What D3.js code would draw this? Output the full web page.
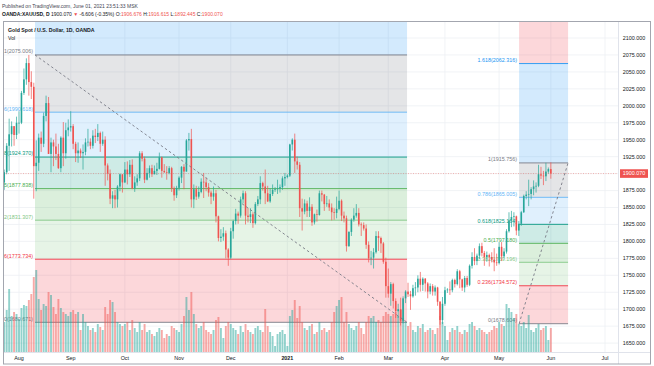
<!DOCTYPE html>
<html><head><meta charset="utf-8">
<script src="https://cdn.jsdelivr.net/npm/d3@7"></script>
<style>body{margin:0;background:#fff}svg{display:block;font-family:"Liberation Sans",Arial,sans-serif}</style>
</head><body><svg id="c" width="654" height="366"></svg>
<script>
// ---- OHLC data by month: [open, high, low, close] ----
const jul2020 = [[1887,1906,1876,1902],[1902,1945,1899,1941],[1941,1981,1904,1958],[1958,1977,1940,1970],[1970,1970,1941,1957],[1957,1984,1951,1975]];
const aug2020 = [[1975,1992,1959,1975],[1975,2022,1973,2019],[2019,2055,2016,2039],[2039,2070,2031,2063],[2063,2075,2015,2035],[2035,2051,2010,2028],[2028,2034,1863,1911],[1911,1949,1874,1916],[1916,1959,1904,1953],[1953,1962,1932,1944],[1944,1990,1939,1985],[1985,2015,1977,2004],[2004,2013,1929,1929],[1929,1953,1902,1946],[1946,1950,1911,1940],[1940,1959,1920,1929],[1929,1944,1907,1908],[1908,1955,1902,1953],[1953,1976,1911,1930],[1930,1975,1922,1964],[1964,1980,1955,1968]];
const sep2020 = [[1968,1992,1962,1970],[1970,1973,1936,1944],[1944,1947,1917,1930],[1930,1946,1916,1934],[1934,1937,1923,1930],[1930,1943,1906,1932],[1932,1952,1927,1946],[1946,1966,1940,1947],[1947,1952,1936,1941],[1941,1964,1937,1956],[1956,1966,1945,1954],[1954,1973,1948,1960],[1960,1962,1932,1944],[1944,1962,1941,1950],[1950,1955,1882,1912],[1912,1915,1890,1900],[1900,1906,1855,1863],[1863,1874,1849,1868],[1868,1876,1849,1862],[1862,1883,1850,1881],[1881,1900,1874,1899],[1899,1899,1872,1887]];
const oct2020 = [[1887,1917,1886,1906],[1906,1918,1884,1899],[1899,1920,1895,1913],[1913,1921,1877,1878],[1878,1896,1873,1887],[1887,1899,1882,1893],[1893,1933,1889,1930],[1930,1933,1918,1922],[1922,1925,1886,1891],[1891,1908,1890,1901],[1901,1912,1894,1908],[1908,1913,1895,1899],[1899,1912,1899,1904],[1904,1916,1898,1907],[1907,1931,1906,1924],[1924,1925,1894,1904],[1904,1914,1901,1902],[1902,1911,1891,1901],[1901,1911,1899,1908],[1908,1910,1873,1878],[1878,1881,1860,1868],[1868,1882,1864,1879]];
const nov2020 = [[1879,1896,1875,1894],[1894,1911,1886,1910],[1910,1914,1877,1903],[1903,1951,1903,1949],[1949,1960,1934,1951],[1951,1966,1850,1862],[1862,1884,1849,1877],[1877,1882,1861,1866],[1866,1881,1863,1873],[1873,1893,1871,1888],[1888,1901,1864,1887],[1887,1894,1874,1880],[1880,1886,1866,1872],[1872,1875,1855,1866],[1866,1881,1860,1871],[1871,1876,1828,1837],[1837,1838,1800,1805],[1805,1818,1799,1807],[1807,1821,1801,1812],[1812,1816,1775,1788],[1788,1790,1764,1776]];
const dec2020 = [[1776,1820,1774,1815],[1815,1832,1804,1830],[1830,1848,1825,1841],[1841,1844,1826,1838],[1838,1866,1835,1862],[1862,1875,1856,1871],[1871,1874,1825,1838],[1838,1849,1828,1836],[1836,1849,1827,1840],[1840,1843,1820,1827],[1827,1858,1825,1855],[1855,1867,1852,1862],[1862,1896,1855,1886],[1886,1888,1875,1881],[1881,1906,1855,1871],[1871,1882,1858,1859],[1859,1878,1857,1870],[1870,1884,1867,1876],[1876,1880,1873,1877],[1877,1891,1870,1878],[1878,1884,1872,1880],[1880,1896,1876,1893],[1893,1901,1882,1895]];
const jan2021 = [[1895,1899,1893,1897],[1897,1944,1895,1943],[1943,1952,1934,1950],[1950,1959,1901,1918],[1918,1925,1906,1913],[1913,1917,1836,1849],[1849,1863,1816,1844],[1844,1862,1840,1856],[1856,1860,1836,1845],[1845,1865,1836,1851],[1851,1855,1823,1828],[1828,1841,1825,1840],[1840,1847,1829,1839],[1839,1875,1838,1871],[1871,1875,1859,1869],[1869,1870,1845,1855],[1855,1867,1851,1856],[1856,1862,1845,1850],[1850,1856,1831,1843],[1843,1849,1832,1842],[1842,1866,1834,1848]];
const feb2021 = [[1848,1875,1846,1860],[1860,1862,1830,1838],[1838,1844,1828,1834],[1834,1838,1785,1793],[1793,1815,1792,1814],[1814,1834,1808,1832],[1832,1849,1829,1838],[1838,1855,1835,1842],[1842,1849,1822,1825],[1825,1828,1808,1824],[1824,1828,1816,1819],[1819,1825,1789,1795],[1795,1800,1769,1775],[1775,1786,1765,1776],[1776,1790,1760,1784],[1784,1815,1782,1808],[1808,1815,1786,1805],[1805,1807,1783,1797],[1797,1799,1767,1770],[1770,1776,1717,1734]];
const mar2021 = [[1734,1760,1717,1723],[1723,1740,1705,1737],[1737,1739,1701,1712],[1712,1716,1687,1697],[1697,1708,1687,1700],[1700,1717,1676,1683],[1683,1719,1679,1716],[1716,1728,1709,1726],[1726,1739,1718,1722],[1722,1727,1699,1719],[1719,1736,1717,1731],[1731,1740,1720,1732],[1732,1750,1725,1745],[1745,1755,1726,1736],[1736,1747,1727,1745],[1745,1746,1726,1738],[1738,1740,1716,1726],[1726,1738,1722,1734],[1734,1737,1720,1726],[1726,1735,1720,1732],[1732,1733,1705,1711],[1711,1712,1677,1684],[1684,1718,1678,1708]];
const apr2021 = [[1708,1733,1705,1728],[1728,1731,1724,1729],[1729,1741,1721,1728],[1728,1745,1725,1743],[1743,1745,1732,1737],[1737,1759,1735,1756],[1756,1758,1731,1744],[1744,1745,1727,1732],[1732,1749,1725,1746],[1746,1749,1733,1736],[1736,1766,1734,1764],[1764,1784,1760,1777],[1777,1790,1765,1771],[1771,1782,1765,1779],[1779,1797,1774,1793],[1793,1798,1778,1783],[1783,1786,1764,1777],[1777,1785,1770,1780],[1780,1782,1763,1777],[1777,1784,1769,1773],[1773,1790,1756,1769],[1769,1782,1764,1768]];
const may2021 = [[1768,1799,1766,1792],[1792,1799,1771,1778],[1778,1790,1775,1785],[1785,1818,1782,1815],[1815,1843,1813,1831],[1831,1845,1821,1836],[1836,1843,1822,1837],[1837,1838,1809,1816],[1816,1830,1808,1826],[1826,1845,1823,1843],[1843,1869,1842,1867],[1867,1874,1862,1869],[1869,1891,1852,1870],[1870,1880,1862,1877],[1877,1890,1868,1881],[1881,1887,1872,1882],[1882,1913,1880,1899],[1899,1910,1892,1897],[1897,1904,1883,1896],[1896,1916,1889,1903],[1903,1909,1900,1906.676]];
const jun2021 = [[1906.676,1916.615,1892.445,1900.070]];

// ---- volume by month (thousands) ----
const volJul2020 = [30,42,63,36,40,38];
const volAug2020 = [33,44,47,46,52,58,75,82,53,42,48,46,60,57,45,38,53,44,40,38,36];
const volSep2020 = [40,42,38,40,22,38,30,26,22,24,20,28,25,22,45,38,52,50,40,30,28,26];
const volOct2020 = [28,30,22,32,24,20,30,22,28,20,22,18,16,20,24,22,14,18,16,26,24,22];
const volNov2020 = [20,28,36,55,42,60,38,28,24,26,30,22,20,18,22,32,35,24,14,26,30];
const volDec2020 = [28,24,22,18,26,20,28,22,20,18,24,26,22,20,43,26,20,16,6,18,20,22,18];
const volJan2021 = [6,36,42,52,34,46,30,24,22,26,28,18,20,30,22,24,20,22,30,40,46];
const volFeb2021 = [52,55,30,40,28,24,22,26,30,24,18,30,36,34,36,30,32,30,36,40];
const volMar2021 = [38,36,38,40,36,42,34,30,26,30,22,20,26,24,28,20,22,24,22,18,24,36,30];
const volApr2021 = [26,12,20,24,22,26,20,18,22,20,28,30,26,22,24,22,20,18,20,22,26,24];
const volMay2021 = [30,28,26,48,44,40,34,38,28,26,30,24,37,22,20,24,28,22,24,26,12];
const volJun2021 = [24];

// ---- axes ----
const monthLabels = ["Aug","Sep","Oct","Nov","Dec","2021","Feb","Mar","Apr","May","Jun","Jul"];
const monthBars   = [6,27,49,71,92,115,136,156,179,201,222,244];
const priceTicks  = [1650,1675,1700,1725,1750,1775,1800,1825,1850,1875,1900,1925,1950,1975,2000,2025,2050,2075,2100];

// ---- fibonacci drawings ----
const fibRatios = [0,0.236,0.382,0.5,0.618,0.786,1,1.618,2.618];
const fibColors = ["#787b86","#f23645","#81c784","#4caf50","#089981","#64b5f6","#787b86","#2196f3","#f23645"];
const fibLeftAnchors  = [1680.671, 2075.006]; // level 0, level 1
const fibLeftBars     = [12.5, 163.6];
const fibRightAnchors = [1678.604, 1915.756];
const fibRightBars    = [209.1, 229];

const candles = [].concat(jul2020,aug2020,sep2020,oct2020,nov2020,dec2020,jan2021,feb2021,mar2021,apr2021,may2021,jun2021);
const volume  = [].concat(volJul2020,volAug2020,volSep2020,volOct2020,volNov2020,volDec2020,volJan2021,volFeb2021,volMar2021,volApr2021,volMay2021,volJun2021);

const svg = d3.select("#c");
const pane = {l:3, r:618, t:21, b:352};
const x = d3.scaleLinear().domain([6,244]).range([19,605]);
const y = d3.scaleLinear().domain([1650,2100]).range([343.1,38]);
const yv = d3.scaleLinear().domain([0,d3.max(volume)]).range([pane.b, pane.b-82]);
const UP = "#26a69a", DN = "#ef5350";
const FS = 5.4;

svg.append("rect").attr("width",654).attr("height",366).attr("fill","#fff");
svg.append("defs").append("clipPath").attr("id","clip").append("rect")
  .attr("x",pane.l).attr("y",pane.t).attr("width",pane.r-pane.l).attr("height",pane.b-pane.t);

const g = svg.append("g").attr("clip-path","url(#clip)");

// grid
g.selectAll(".hg").data(priceTicks).join("line")
  .attr("x1",pane.l).attr("x2",pane.r).attr("y1",d=>y(d)).attr("y2",d=>y(d))
  .attr("stroke","#eef0f4").attr("stroke-width",0.8);
g.selectAll(".vg").data(monthBars).join("line")
  .attr("x1",d=>x(d)).attr("x2",d=>x(d)).attr("y1",pane.t).attr("y2",pane.b)
  .attr("stroke","#eef0f4").attr("stroke-width",0.8);

function fibLevels(anchors){
  return fibRatios.map((r,i)=>({r, c:fibColors[i], p: anchors[0] + r*(anchors[1]-anchors[0])}));
}
function drawFib(anchors, bars){
  const lv = fibLevels(anchors), x0 = x(bars[0]), x1 = x(bars[1]);
  for (let i=1;i<lv.length;i++){
    const ya = y(lv[i].p), yb = y(lv[i-1].p);
    g.append("rect").attr("x",x0).attr("width",x1-x0)
      .attr("y",Math.min(ya,yb)).attr("height",Math.abs(yb-ya))
      .attr("fill",lv[i].c).attr("fill-opacity",0.2);
  }
  lv.forEach(l=>{
    g.append("line").attr("x1",x0).attr("x2",x1).attr("y1",y(l.p)).attr("y2",y(l.p))
      .attr("stroke",l.c).attr("stroke-width",0.9);
    g.append("text").attr("x",x0-2).attr("y",y(l.p)-1.6).attr("text-anchor","end")
      .attr("font-size",FS).attr("fill",l.c).text(`${l.r}(${l.p.toFixed(3)})`);
  });
}
drawFib(fibLeftAnchors, fibLeftBars);
drawFib(fibRightAnchors, fibRightBars);

// volume
g.selectAll(".vol").data(volume).join("rect")
  .attr("x",(d,i)=>x(i)-0.95).attr("width",1.9)
  .attr("y",d=>yv(d)).attr("height",d=>pane.b-yv(d))
  .attr("fill",(d,i)=>candles[i][3]>=candles[i][0]?UP:DN).attr("fill-opacity",0.5);

// candles
const cg = g.selectAll(".cd").data(candles).join("g");
cg.append("line").attr("x1",(d,i)=>x(i)).attr("x2",(d,i)=>x(i))
  .attr("y1",d=>y(d[1])).attr("y2",d=>y(d[2]))
  .attr("stroke",d=>d[3]>=d[0]?UP:DN).attr("stroke-width",0.7);
cg.append("rect").attr("x",(d,i)=>x(i)-0.8).attr("width",1.6)
  .attr("y",d=>y(Math.max(d[0],d[3])))
  .attr("height",d=>Math.max(0.7,Math.abs(y(d[0])-y(d[3]))))
  .attr("fill",d=>d[3]>=d[0]?UP:DN);

// dashed trend lines of the fib drawings
[[fibLeftAnchors,fibLeftBars,1,0],[fibRightAnchors,fibRightBars,0,1]].forEach(([a,b,s,e])=>{
  g.append("line").attr("x1",x(b[0])).attr("y1",y(a[s])).attr("x2",x(b[1])).attr("y2",y(a[e]))
    .attr("stroke","#787b86").attr("stroke-width",0.9).attr("stroke-dasharray","2.5,2.5");
});

// last price line
const last = candles[candles.length-1];
g.append("line").attr("x1",pane.l).attr("x2",pane.r).attr("y1",y(last[3])).attr("y2",y(last[3]))
  .attr("stroke",DN).attr("stroke-width",0.7).attr("stroke-dasharray","1,1.5").attr("stroke-opacity",0.6);

// legend
g.append("text").attr("x",8).attr("y",31.5).attr("font-size",5.2).attr("font-weight","bold")
  .attr("fill","#131722").text("Gold Spot / U.S. Dollar, 1D, OANDA");
g.append("text").attr("x",8).attr("y",39.5).attr("font-size",5.2).attr("fill","#131722").text("Vol");

// separators & frame
svg.append("line").attr("x1",pane.r+0.5).attr("x2",pane.r+0.5).attr("y1",pane.t).attr("y2",364)
  .attr("stroke","#e0e3eb").attr("stroke-width",1);
svg.append("line").attr("x1",pane.l).attr("x2",651).attr("y1",pane.b+0.5).attr("y2",pane.b+0.5)
  .attr("stroke","#e0e3eb").attr("stroke-width",1);
svg.append("rect").attr("x",3.5).attr("y",21.5).attr("width",647).attr("height",342.5)
  .attr("fill","none").attr("stroke","#a3a6af").attr("stroke-width",1);

// price axis
const lastY = y(last[3]);
svg.selectAll(".pt").data(priceTicks.filter(t=>Math.abs(y(t)-lastY)>8)).join("text")
  .attr("x",634).attr("y",d=>y(d)).attr("dy","0.35em").attr("text-anchor","middle")
  .attr("font-size",FS).attr("fill","#131722").text(d=>d.toFixed(3));
svg.append("rect").attr("x",620).attr("y",lastY-4.3).attr("width",28).attr("height",8.6).attr("fill",DN);
svg.append("text").attr("x",634).attr("y",lastY).attr("dy","0.35em").attr("text-anchor","middle")
  .attr("font-size",FS).attr("fill","#fff").text(last[3].toFixed(3));

// time axis
svg.selectAll(".mt").data(monthLabels).join("text")
  .attr("x",(d,i)=>x(monthBars[i])).attr("y",359.5).attr("text-anchor","middle")
  .attr("font-size",FS).attr("fill","#131722").attr("font-weight",d=>d==="2021"?"bold":"normal").text(d=>d);

// header
svg.append("text").attr("x",2).attr("y",7.5).attr("font-size",5).attr("fill","#434651")
  .text("Published on TradingView.com, June 01, 2021 23:51:33 MSK");
const prev = candles[candles.length-2][3];
const chg = last[3]-prev;
const h2 = svg.append("text").attr("x",2).attr("y",16).attr("font-size",5).attr("fill","#131722");
h2.append("tspan").attr("font-weight","bold").text("OANDA:XAUUSD, D");
h2.append("tspan").text(" " + last[3].toFixed(3) + " ");
h2.append("tspan").attr("fill",DN).text("▼");
h2.append("tspan").text(` ${chg.toFixed(3)} (${(chg/prev*100).toFixed(2)}%) `);
["O","H","L","C"].forEach((k,i)=>{
  h2.append("tspan").text(k+":");
  h2.append("tspan").attr("fill",DN).text(last[i].toFixed(3)+" ");
});
</script>
</body></html>
